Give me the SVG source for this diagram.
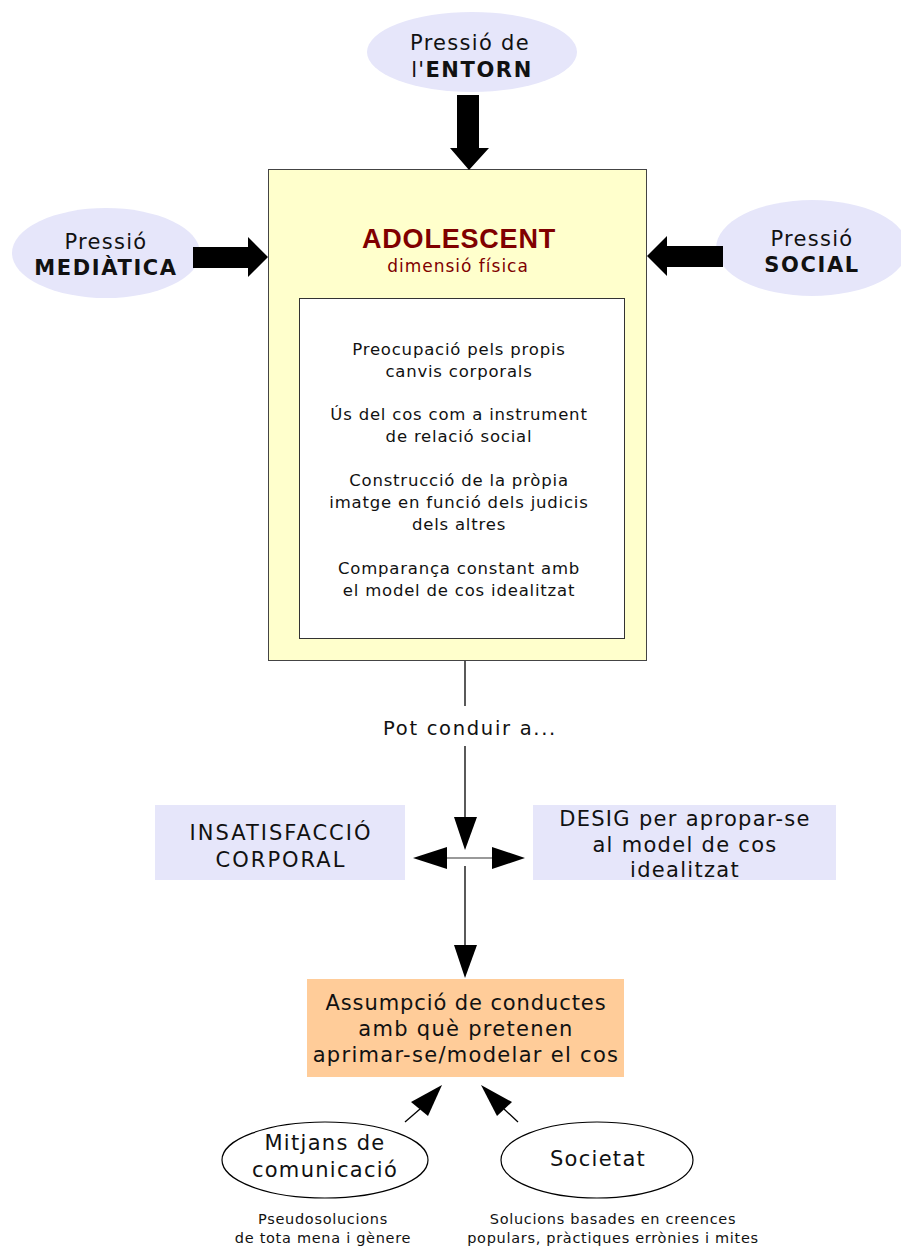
<svg xmlns="http://www.w3.org/2000/svg" width="901" height="1248" viewBox="0 0 901 1248">
<style>
text{font-family:"DejaVu Sans",Verdana,sans-serif;fill:#111;text-anchor:middle}
.p{font-size:21px;letter-spacing:1.3px}
.b{font-weight:bold;letter-spacing:1.6px}
.in{font-size:16.5px;letter-spacing:0.8px}
.lav{fill:#e6e6fa}
.ln{stroke:#000;stroke-width:1.3;fill:none}
.sm{font-size:14.5px;letter-spacing:0.7px}
</style>
<rect width="901" height="1248" fill="#fff"/>
<g id="entorn">
<ellipse class="lav" cx="472" cy="52" rx="105" ry="40"/>
<text class="p" x="470" y="50">Pressió de</text>
<text class="p" x="472" y="77">l'<tspan class="b">ENTORN</tspan></text>
</g>
<g id="mediatica">
<ellipse class="lav" cx="106" cy="253" rx="94" ry="45"/>
<text class="p" x="106" y="249">Pressió</text>
<text class="p b" x="106" y="275">MEDIÀTICA</text>
</g>
<g id="social">
<ellipse class="lav" cx="812" cy="248" rx="96" ry="48"/>
<text class="p" x="812" y="246">Pressió</text>
<text class="p b" x="812" y="272">SOCIAL</text>
</g>
<g id="adolescent">
<rect x="268.5" y="169.5" width="378" height="491" fill="#ffffcc" stroke="#444" stroke-width="1"/>
<text x="459" y="248" style="font-family:'Liberation Sans',Arial,sans-serif;font-weight:bold;font-size:27px;letter-spacing:0.8px;fill:#800000">ADOLESCENT</text>
<text x="458" y="272" style="font-size:17px;letter-spacing:1px;fill:#800000">dimensió física</text>
<rect x="299.5" y="298.5" width="325" height="340" fill="#fff" stroke="#333" stroke-width="1"/>
<text class="in" x="459" y="355">Preocupació pels propis</text>
<text class="in" x="459" y="377">canvis corporals</text>
<text class="in" x="459" y="420">Ús del cos com a instrument</text>
<text class="in" x="459" y="442">de relació social</text>
<text class="in" x="459" y="486">Construcció de la pròpia</text>
<text class="in" x="459" y="508">imatge en funció dels judicis</text>
<text class="in" x="459" y="530">dels altres</text>
<text class="in" x="459" y="574">Comparança constant amb</text>
<text class="in" x="459" y="596">el model de cos idealitzat</text>
</g>
<g id="insatisfaccio">
<rect class="lav" x="155" y="805" width="250" height="75"/>
<text class="p" x="281" y="840" style="letter-spacing:2px">INSATISFACCIÓ</text>
<text class="p" x="281" y="867" style="letter-spacing:2px">CORPORAL</text>
</g>
<g id="desig">
<rect class="lav" x="533" y="805" width="303" height="75"/>
<text class="p" x="685" y="826">DESIG per apropar-se</text>
<text class="p" x="685" y="852">al model de cos</text>
<text class="p" x="685" y="877">idealitzat</text>
</g>
<g id="assumpcio">
<rect x="307" y="979" width="317" height="98" fill="#ffcc99"/>
<text class="p" x="466" y="1010" style="letter-spacing:0.9px">Assumpció de conductes</text>
<text class="p" x="466" y="1036">amb què pretenen</text>
<text class="p" x="466" y="1062">aprimar-se/modelar el cos</text>
</g>
<g id="mitjans">
<ellipse cx="325" cy="1160" rx="103" ry="38" fill="#fff" stroke="#000" stroke-width="1.2"/>
<text class="p" x="325" y="1150">Mitjans de</text>
<text class="p" x="325" y="1177">comunicació</text>
<text class="sm" x="323" y="1224">Pseudosolucions</text>
<text class="sm" x="323" y="1243">de tota mena i gènere</text>
</g>
<g id="societat">
<ellipse cx="597" cy="1160" rx="96" ry="38" fill="#fff" stroke="#000" stroke-width="1.2"/>
<text class="p" x="598" y="1166">Societat</text>
<text class="sm" x="613" y="1224">Solucions basades en creences</text>
<text class="sm" x="613" y="1243">populars, pràctiques errònies i mites</text>
</g>
<g id="connectors">
<polygon points="457,95 479,95 479,148 489,148 469,170 450,148 457,148" fill="#000"/>
<polygon points="193,247 248,247 248,237 268,257 248,277 248,268 193,268" fill="#000"/>
<polygon points="723,246 667,246 667,236 647,256 667,276 667,267 723,267" fill="#000"/>
<line class="ln" x1="465" y1="661" x2="465" y2="706"/>
<text x="470" y="735" style="font-size:19.5px;letter-spacing:1.7px">Pot conduir a...</text>
<line class="ln" x1="465" y1="746" x2="465" y2="820"/>
<polygon points="454,817 477,817 465,850" fill="#000"/>
<line x1="446" y1="858" x2="493" y2="858" stroke="#777" stroke-width="1.3"/>
<polygon points="413,858 447,847 447,869" fill="#000"/>
<polygon points="525,858 492,847 492,869" fill="#000"/>
<line class="ln" x1="465" y1="866" x2="465" y2="948"/>
<polygon points="454,945 477,945 465,978" fill="#000"/>
<line class="ln" x1="405" y1="1122" x2="420" y2="1109"/>
<polygon points="442,1085 411,1102 428,1116" fill="#000"/>
<line class="ln" x1="518" y1="1122" x2="504" y2="1109"/>
<polygon points="481,1085 512,1102 497,1116" fill="#000"/>
</g>
</svg>
